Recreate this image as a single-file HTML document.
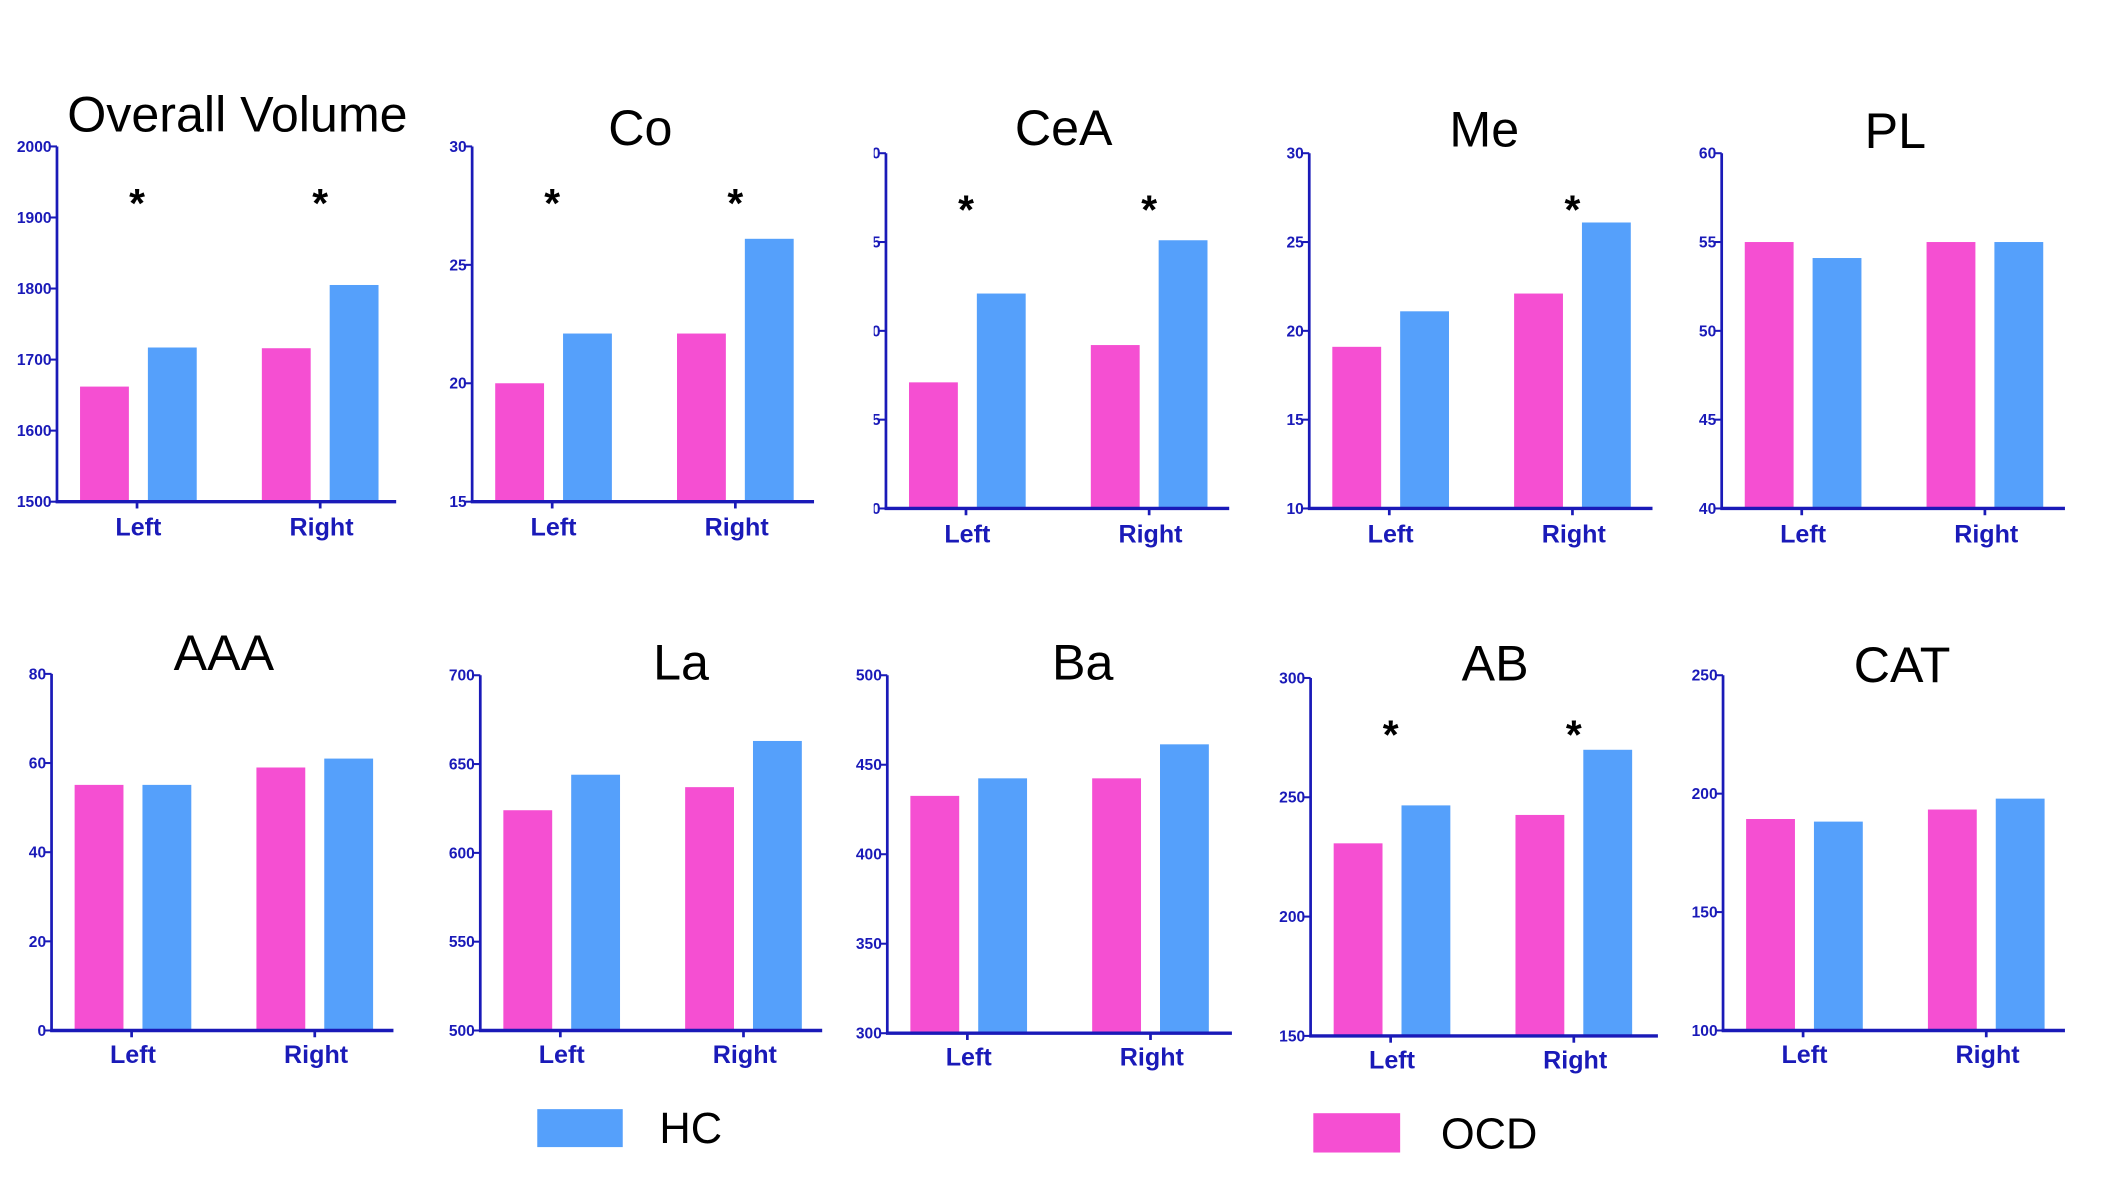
<!DOCTYPE html>
<html><head><meta charset="utf-8">
<style>
html,body{margin:0;padding:0;background:#fff;}
svg{display:block;}
.tick{font-family:"Liberation Sans Narrow","Liberation Sans",sans-serif;font-weight:bold;font-size:11.5px;fill:#1a1ab8;}
.cat{font-family:"Liberation Sans",sans-serif;font-weight:bold;font-size:18.5px;fill:#1a1ab8;}
.title{font-family:"Liberation Sans Narrow","Liberation Sans",sans-serif;font-size:37px;fill:#000;}
.star{font-family:"Liberation Sans",sans-serif;font-weight:bold;font-size:30px;fill:#000;}
.leg{font-family:"Liberation Sans Narrow","Liberation Sans",sans-serif;font-size:32px;fill:#000;}
</style></head>
<body>
<svg id="chart" width="2126" height="1181" viewBox="0 0 1567 871" preserveAspectRatio="none" xmlns="http://www.w3.org/2000/svg">
<g>
<rect x="396" y="818" width="63" height="28" fill="#55a0fb"/>
<text class="leg" x="486" y="843">HC</text>
<rect x="968" y="821" width="64" height="29" fill="#f54fd2"/>
<text class="leg" x="1062" y="847">OCD</text>
</g>
</svg>
<script>
const categories = ['Left','Right'];
const titles = ['Overall Volume','Co','CeA','Me','PL','AAA','La','Ba','AB','CAT'];
const ocdLeft  = [1662, 20.0, 37.1, 19.1, 55.0, 55.1, 624, 432.6, 230.7, 189.3];
const ocdRight = [1716, 22.1, 39.2, 22.1, 55.0, 59.0, 637, 442.4, 242.6, 193.3];
const hcLeft   = [1717, 22.1, 42.1, 21.1, 54.1, 55.1, 644, 442.4, 246.6, 188.2];
const hcRight  = [1805, 26.1, 45.1, 26.1, 55.0, 61.0, 663, 461.4, 269.9, 197.9];
const yMin = [1500, 15, 30, 10, 40, 0, 500, 300, 150, 100];
const yMax = [2000, 30, 50, 30, 60, 80, 700, 500, 300, 250];
const yStep = [100, 5, 5, 5, 5, 20, 50, 50, 50, 50];
const starLeft  = [true, true, true, false, false, false, false, false, true, false];
const starRight = [true, true, true, true, false, false, false, false, true, false];

// layout (pixel geometry, not data)
const layout = [
  {x0:42,top:108,bot:370,right:292,ty:97,tx:175},
  {x0:348,top:108,bot:370,right:600,ty:107,tx:472},
  {x0:653,top:113,bot:375,right:906,ty:107,tx:784},
  {x0:965,top:113,bot:375,right:1218,ty:108,tx:1094},
  {x0:1269,top:113,bot:375,right:1522,ty:109,tx:1397},
  {x0:38,top:497,bot:760,right:290,ty:494,tx:165},
  {x0:354,top:498,bot:760,right:606,ty:501,tx:502},
  {x0:654,top:498,bot:762,right:908,ty:501,tx:798},
  {x0:966,top:500,bot:764,right:1222,ty:502,tx:1102},
  {x0:1270,top:498,bot:760,right:1522,ty:503,tx:1402}
];
const NS='http://www.w3.org/2000/svg';
const svg=document.getElementById('chart');
function mk(tag,attrs,parent){const e=document.createElementNS(NS,tag);for(const k in attrs)e.setAttribute(k,attrs[k]);parent.appendChild(e);return e;}
const AX='#1a1ab8', PINK='#f54fd2', BLUE='#55a0fb';

titles.forEach((t,i)=>{
  const L=layout[i];
  const g=mk('g',{},svg);
  
  
  const yScale=v=>L.bot-(v-yMin[i])/(yMax[i]-yMin[i])*(L.bot-L.top);
  const clipId='clip'+i;
  if(i===2){const cp=mk('clipPath',{id:clipId},g);mk('rect',{x:L.x0-9,y:0,width:20,height:900},cp);}
  const tt=mk('text',{x:L.tx,y:L.ty,'text-anchor':'middle',class:'title'},g);
  tt.textContent=t;
  
  
  const groups=[[ocdLeft[i],hcLeft[i]],[ocdRight[i],hcRight[i]]];
  groups.forEach((pair,gi)=>{
    const gx=L.x0+17+gi*134;
    const pb=mk('rect',{x:gx,y:yScale(pair[0]),width:36,height:L.bot-yScale(pair[0]),fill:PINK},g);
    
    
    const bb=mk('rect',{x:gx+50,y:yScale(pair[1]),width:36,height:L.bot-yScale(pair[1]),fill:BLUE},g);
    
    
    const cx=L.x0+59+gi*135;
    mk('line',{x1:cx,x2:cx,y1:L.bot,y2:L.bot+5,stroke:AX,'stroke-width':2},g);
    const ct=mk('text',{x:cx+1,y:L.bot+(i>=5?24:25),'text-anchor':'middle',class:'cat'},g);
    ct.textContent=categories[gi];
    
    
    const star=gi===0?starLeft[i]:starRight[i];
    if(star){
      const st=mk('text',{x:cx,y:L.top+52,'text-anchor':'middle',class:'star'},g);
      st.textContent='*';
      
      
    }
  });
  const ya=mk('line',{x1:L.x0,x2:L.x0,y1:L.top,y2:L.bot+1,stroke:AX,'stroke-width':2},g);
  
  
  const xa=mk('line',{x1:L.x0-1,x2:L.right,y1:L.bot,y2:L.bot,stroke:AX,'stroke-width':2.5},g);
  
  
  for(let v=yMin[i];v<=yMax[i]+1e-9;v+=yStep[i]){
    const y=yScale(v);
    mk('line',{x1:L.x0-5,x2:L.x0,y1:y,y2:y,stroke:AX,'stroke-width':1.5},g);
    const tl=mk('text',{x:L.x0-4,y:y+4,'text-anchor':'end',class:'tick'},g);
    if(i===2) tl.setAttribute('clip-path','url(#'+clipId+')');
    tl.textContent=String(v);
    
    
  }
});
</script>
</body></html>
